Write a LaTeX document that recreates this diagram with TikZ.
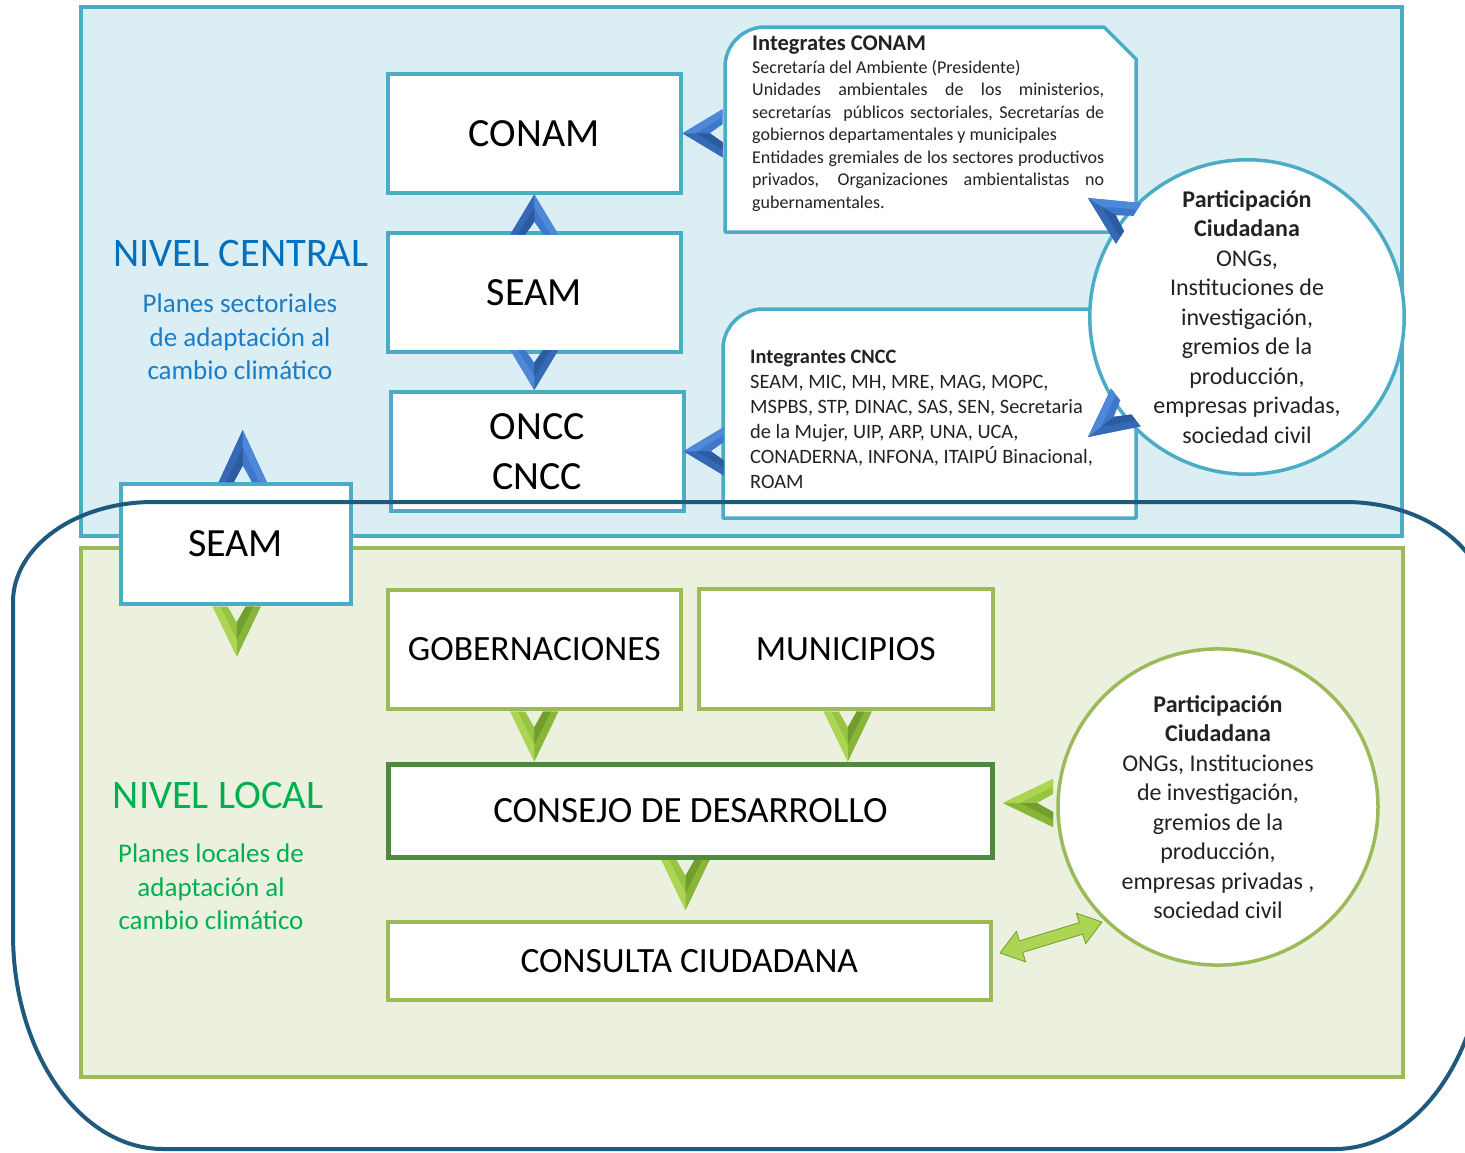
\documentclass[tikz,border=0pt]{standalone}
\usepackage{fontspec}
\setmainfont{Carlito}
\usetikzlibrary{calc,shapes.geometric}
\definecolor{bluebord}{HTML}{4BACC6}
\definecolor{bluefill}{HTML}{DAEEF3}
\definecolor{greenbord}{HTML}{9BBB59}
\definecolor{greenfill}{HTML}{EBF1DE}
\definecolor{darkgreen}{HTML}{4E8A3E}
\definecolor{navy}{HTML}{1F5A7E}
\definecolor{txtblue}{HTML}{0070C0}
\definecolor{txtblueb}{HTML}{1A7DC9}
\definecolor{txtgreen}{HTML}{00B050}
\definecolor{txtdark}{HTML}{222222}
\definecolor{bL}{HTML}{4F88D8}
\definecolor{bM}{HTML}{3F78CA}
\definecolor{bN}{HTML}{3569B6}
\definecolor{bD}{HTML}{2C5B9F}
\definecolor{gL}{HTML}{ABD552}
\definecolor{gM}{HTML}{98C443}
\definecolor{gN}{HTML}{88B638}
\definecolor{gD}{HTML}{719E2E}
\tikzset{
  pics/chev/.style 2 args={code={
    \fill[#2M] (0,0) -- (-24,-#1) -- (-9,-#1) -- (0,-0.68*#1) -- (9,-#1) -- (24,-#1) -- cycle;
    \fill[#2N] (0,0) -- (0,-0.68*#1) -- (9,-#1) -- (24,-#1) -- cycle;
    \fill[#2L] (0,0) -- (0,-0.34*#1) -- (-16.5,-#1) -- (-24,-#1) -- cycle;
    \fill[#2D] (0,-0.34*#1) -- (0,-0.68*#1) -- (9,-#1) -- (16.5,-#1) -- cycle;
  }},
  bbox/.style={draw=bluebord, line width=3.5pt, fill=white, inner sep=0pt, anchor=north west,
    font=\fontsize{40}{50}\selectfont, align=center},
  gbox/.style={draw=greenbord, line width=3.5pt, fill=white, inner sep=0pt, anchor=north west,
    font=\fontsize{35.5}{42}\selectfont},
  region/.style={line width=4pt},
  panel/.style={draw=bluebord, line width=3.5pt, fill=white, line join=round},
  bigtitle/.style={font=\fontsize{40.5}{46}\selectfont},
  subtitle/.style={font=\fontsize{27}{33.5}\selectfont, align=center},
  ptext/.style={inner sep=0pt, align=center, font=\fontsize{24}{29.5}\selectfont, text=txtdark},
}
\begin{document}
\begin{tikzpicture}[x=1pt,y=-1pt]
\useasboundingbox (0,0) rectangle (1465,1152);
\begin{scope}
\clip (0,0) rectangle (1465,1152);
% regions
\draw[region, draw=bluebord, fill=bluefill] (81,7) rectangle (1402,536);
\draw[region, draw=greenbord, fill=greenfill] (81,548) rectangle (1403,1077);

% text panels
\draw[panel] (725,232) -- (725,67) .. controls (725,45) and (743,27) .. (765,27) -- (1104,27) -- (1136,59) -- (1136,232) -- cycle;
\draw[panel] (723,518) -- (723,349) .. controls (723,327) and (741,309) .. (763,309) -- (1136,309) -- (1136,518) -- cycle;

\node[anchor=north west, inner sep=0pt, text width=352pt, align=justify, text=txtdark,
  font=\fontsize{18}{22.5}\selectfont] (conamtxt) at (752,36)
  {{\fontsize{22.5}{22.5}\selectfont\bfseries Integrates CONAM}\\
   Secretaría del Ambiente (Presidente)\\
   Unidades ambientales de los ministerios,\linebreak
   secretarías \ públicos sectoriales, Secretarías de\linebreak
   gobiernos departamentales y municipales\\
   Entidades gremiales de los sectores productivos\linebreak
   privados, Organizaciones ambientalistas no\linebreak
   gubernamentales.};

\node[anchor=north west, inner sep=0pt, align=left, text=txtdark,
  font=\fontsize{20.4}{25}\selectfont] (cncctxt) at (750,350)
  {\textbf{Integrantes CNCC}\\
   SEAM, MIC, MH, MRE, MAG, MOPC,\\
   MSPBS, STP, DINAC, SAS, SEN, Secretaria\\
   de la Mujer, UIP, ARP, UNA, UCA,\\
   CONADERNA, INFONA, ITAIPÚ Binacional,\\
   ROAM};

% blue boxes
\node[bbox, minimum width=293pt, minimum height=119pt] (conam) at (386,72) {CONAM};
\node[bbox, minimum width=293pt, minimum height=119pt] (seam) at (386,231) {SEAM};
\node[bbox, minimum width=293pt, minimum height=119pt] (oncc) at (389,390) {ONCC\\CNCC};
\node[bbox, minimum width=230pt, minimum height=120pt] (seamL) at (119,482) {SEAM};

% green boxes
\node[gbox, minimum width=293pt, minimum height=119pt] (gob) at (386,588) {GOBERNACIONES};
\node[gbox, minimum width=294pt, minimum height=120pt] (mun) at (697,587) {MUNICIPIOS};
\node[gbox, draw=darkgreen, line width=5pt, minimum width=604pt, minimum height=93pt, font=\fontsize{37}{42}\selectfont] (consejo) at (386,762) {CONSEJO DE DESARROLLO};
\node[gbox, minimum width=603pt, minimum height=78pt] (consulta) at (386,920) {CONSULTA CIUDADANA};

% circles
\node[ptext, circle, draw=bluebord, line width=3.5pt, fill=white, minimum size=312pt] (pcb) at (1247,317)
  {\textbf{Participación}\\\textbf{Ciudadana}\\ONGs,\\Instituciones de\\investigación,\\gremios de la\\producción,\\empresas privadas,\\sociedad civil};
\node[ptext, ellipse, draw=greenbord, line width=3.5pt, fill=white, minimum width=320pt, minimum height=296pt] (pcg) at (1218,807)
  {\textbf{Participación}\\\textbf{Ciudadana}\\ONGs, Instituciones\\de investigación,\\gremios de la\\producción,\\empresas privadas ,\\sociedad civil};

% level labels
\node[bigtitle, text=txtblue] (nc) at (241,253) {NIVEL CENTRAL};
\node[subtitle, text=txtblueb] (ncsub) at (240,337) {Planes sectoriales\\de adaptación al\\cambio climático};
\node[bigtitle, text=txtgreen] (nl) at (218,795) {NIVEL LOCAL};
\node[subtitle, text=txtgreen] (nlsub) at (211,887) {Planes locales de\\adaptación al\\cambio climático};

% blue chevrons
\pic[rotate=180] at (conam.south) {chev={40}{b}};
\pic at (seam.south |- oncc.north) {chev={40}{b}};
\pic[rotate=-90] at (conam.east) {chev={40}{b}};
\pic[rotate=-90] at ($(oncc.east)+(-2,0)$) {chev={40}{b}};
\pic[rotate=180] at ($(seamL.north)+(7,-52)$) {chev={52}{b}};
\coordinate (cu) at ($(pcb.center)+(-159,-119)$);
\coordinate (cl) at ($(pcb.center)+(-159,120)$);
\pic[rotate=238] at (cu) {chev={48}{b}};
\pic[rotate=308] at (cl) {chev={48}{b}};

% green chevrons
\pic at ($(seamL.south)+(1,51)$) {chev={50}{g}};
\pic at ($(gob.south)+(0,51)$) {chev={50}{g}};
\pic at ($(mun.south)+(2,51)$) {chev={50}{g}};
\pic at ($(consejo.south)+(-5,50)$) {chev={50}{g}};
\pic[rotate=-90] at ($(consejo.east)+(8,-8)$) {chev={50}{g}};

% double arrow
\coordinate (da) at (1000,953);
\coordinate (db) at (1102,922);
\coordinate (ha) at ($(da)!22pt!(db)$);
\coordinate (hb) at ($(db)!22pt!(da)$);
\filldraw[fill=gL, draw=gD, line width=0.8pt, line join=round]
  (da) -- ($(ha)!16pt!90:(db)$) -- ($(ha)!6pt!90:(db)$) -- ($(hb)!6pt!-90:(da)$) -- ($(hb)!16pt!-90:(da)$)
  -- (db) -- ($(hb)!16pt!90:(da)$) -- ($(hb)!6pt!90:(da)$) -- ($(ha)!6pt!-90:(db)$) -- ($(ha)!16pt!-90:(db)$) -- cycle;

% outer rounded frame
\draw[navy, line width=4pt] (13,602) .. controls (13,546.8) and (75.7,502) .. (153,502) -- (1345,502)
  .. controls (1422.3,502) and (1485,546.8) .. (1485,602) -- (1485,934)
  .. controls (1485,1052.7) and (1417.8,1149) .. (1335,1149) -- (163,1149)
  .. controls (80.2,1149) and (13,1052.7) .. (13,934) -- cycle;
\end{scope}
\end{tikzpicture}
\end{document}
